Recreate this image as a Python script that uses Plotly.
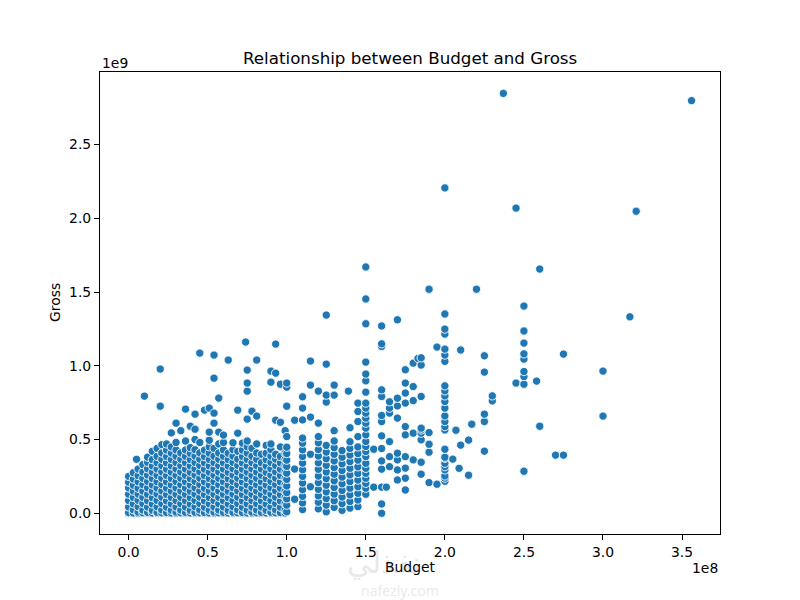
import plotly.graph_objects as go

# budgets and gross in millions of dollars

# dense body of the cloud: one budget per column, list of gross values for it
blob_budget = [0, 3, 5, 6, 9, 10, 12, 15, 18, 20, 21, 24, 27, 30, 33, 36, 39, 42, 45, 48,
               51, 54, 57, 60, 63, 66, 69, 72, 74, 75, 78, 81, 84, 87, 90, 93, 96, 99,
               100, 105, 110, 115, 120, 125, 130, 135, 139, 140, 145]
blob_gross = [
    [0, 5, 43, 86, 129, 172, 210, 250],
    [2, 24, 64, 107, 150, 190, 232, 275],
    [366],
    [0, 8, 45, 88, 130, 170, 214, 256, 300],
    [3, 22, 66, 108, 151, 194, 237, 280, 330],
    [794],
    [0, 6, 42, 85, 128, 173, 216, 259, 302, 345, 380],
    [2, 20, 63, 106, 149, 192, 236, 279, 321, 364, 420],
    [0, 7, 44, 87, 131, 171, 214, 257, 300, 343, 386, 440],
    [726, 978],
    [3, 23, 65, 109, 152, 195, 238, 281, 323, 366, 409, 465],
    [0, 5, 41, 84, 127, 170, 213, 256, 299, 342, 385, 428, 470],
    [2, 21, 64, 107, 150, 193, 236, 279, 322, 365, 408, 450, 545],
    [0, 8, 43, 86, 129, 172, 215, 258, 301, 344, 387, 430, 480, 611],
    [3, 22, 65, 108, 151, 194, 237, 280, 323, 366, 409, 560],
    [0, 6, 42, 85, 128, 171, 214, 257, 300, 343, 386, 429, 490, 706],
    [2, 20, 63, 106, 149, 192, 235, 278, 321, 364, 407, 445, 590],
    [0, 7, 44, 87, 130, 173, 216, 259, 302, 345, 388, 431, 500, 570, 672],
    [3, 23, 66, 109, 152, 195, 238, 281, 324, 367, 410, 480, 1086],
    [0, 5, 41, 84, 127, 170, 213, 256, 299, 342, 385, 428, 699],
    [2, 21, 64, 107, 150, 193, 236, 279, 322, 365, 408, 451, 495, 550, 713],
    [0, 8, 43, 86, 129, 172, 215, 258, 301, 344, 387, 440, 611, 679, 916, 1073],
    [3, 22, 65, 108, 151, 194, 237, 280, 323, 366, 409, 470, 550, 781],
    [0, 6, 42, 85, 128, 171, 214, 257, 300, 343, 386, 430, 480, 530],
    [2, 20, 63, 106, 149, 192, 235, 278, 321, 364, 407, 1039],
    [0, 7, 44, 87, 130, 173, 216, 259, 302, 345, 388, 431, 478],
    [3, 23, 66, 109, 152, 195, 238, 281, 324, 367, 420, 543, 699],
    [0, 5, 41, 84, 127, 170, 213, 256, 299, 342, 385, 428, 475],
    [1161],
    [2, 21, 64, 107, 150, 193, 236, 279, 322, 365, 408, 451, 490, 638, 828, 883, 971],
    [0, 8, 43, 86, 129, 172, 215, 258, 301, 344, 387, 440, 692],
    [3, 22, 65, 108, 151, 194, 237, 280, 323, 366, 409, 470, 659, 1039],
    [0, 6, 42, 85, 128, 171, 214, 257, 300, 343, 400],
    [2, 20, 63, 106, 149, 192, 235, 278, 321, 364, 407, 460],
    [0, 7, 44, 87, 130, 173, 216, 259, 302, 345, 388, 431, 470, 889, 964],
    [3, 23, 66, 109, 152, 195, 238, 281, 324, 367, 400, 631, 950, 1147],
    [0, 5, 41, 84, 127, 170, 213, 256, 299, 342, 385, 450, 617, 875],
    [2, 21, 64, 107, 150, 193, 236, 279, 322, 365, 408, 560],
    [10, 55, 98, 140, 185, 230, 272, 318, 360, 405, 448, 520, 726, 855, 883],
    [95, 300, 631],
    [25, 70, 115, 160, 205, 250, 295, 340, 385, 430, 475, 510, 633, 713, 790],
    [180, 400, 652, 869, 1032],
    [30, 75, 118, 162, 208, 252, 298, 342, 388, 432, 478, 520, 611, 828],
    [10, 55, 100, 145, 190, 235, 280, 325, 370, 415, 460, 754, 801, 1011, 1344],
    [40, 85, 130, 175, 220, 265, 310, 355, 400, 445, 490, 560, 801, 869],
    [20, 65, 110, 155, 200, 245, 290, 335, 380, 425],
    [828],
    [35, 80, 125, 170, 215, 260, 305, 350, 395, 440, 485, 580],
    [45, 90, 135, 180, 225, 270, 315, 360, 405, 450, 520, 622, 690, 747],
]

# sparser big-budget films
big_budget = [150] * 25 + [155, 155, 160, 160, 160, 160, 160, 160, 160, 160, 160, 160, 160, 160, 160, 160, 163,
              165, 165, 165, 165, 165, 165,
              170, 170, 170, 170, 170, 170, 170, 170,
              175, 175, 175, 175, 175, 175, 175, 175, 175, 175,
              180, 180, 180, 180, 180, 183,
              185, 185, 185, 185, 185, 185, 185, 185, 185,
              190, 190, 190, 190, 190, 190, 195, 195] + [200] * 25 + [
              205, 207, 209, 210, 210, 215, 215, 217, 220, 225, 225, 225, 225, 225, 230, 230,
              237, 245, 245] + [250] * 9 + [258, 260, 260, 270, 275, 275, 300, 300, 317, 321, 356]
big_gross = [129, 170, 203, 237, 271, 305, 339, 385, 419, 453, 487, 532, 577, 611, 645, 679, 713,
             747, 821, 898, 944, 1025, 1285, 1453, 1670,
             434, 177, 0, 63, 177, 299, 355, 439, 525, 622, 663, 792, 837, 1131, 1149, 1270, 177,
             316, 384, 486, 679, 713, 756,
             226, 294, 362, 407, 645, 728, 780, 1312,
             158, 238, 306, 384, 532, 588, 747, 815, 883, 973,
             362, 543, 764, 859, 1018, 1050,
             265, 346, 498, 543, 565, 577, 792, 1005, 1054,
             208, 414, 468, 547, 1515, 1519, 197, 1127,
             217, 238, 253, 294, 316, 339, 373, 380, 434, 565, 588, 622, 660, 713, 758, 796,
             830, 864, 1030, 1073, 1113, 1215, 1249, 1351, 2206,
             367, 563, 305, 462, 1107, 258, 496, 604, 1519, 421, 622, 672, 957, 1068, 762, 796,
             2847, 883, 2069,
             285, 875, 927, 961, 1045, 1081, 1154, 1236, 1405,
             896, 590, 1656, 394, 394, 1079, 659, 964, 1332, 2048, 2798]

x_ticks = [0, 0.5, 1.0, 1.5, 2.0, 2.5, 3.0, 3.5]
y_ticks = [0, 0.5, 1.0, 1.5, 2.0, 2.5]

budget = []
gross = []
for b, col in zip(blob_budget, blob_gross):
    for g in col:
        budget.append(b)
        gross.append(g)
budget += big_budget[:len(big_gross)]
gross += big_gross[:len(big_budget)]

# axis units: 1e8 for budget, 1e9 for gross
xs = [b / 100 for b in budget]
ys = [g / 1000 for g in gross]

font = dict(family="DejaVu Sans", size=13.9, color="black")
mark = dict(family="Noto Sans", color="rgba(215,215,215,0.55)")

fig = go.Figure(go.Scatter(
    x=xs, y=ys, mode="markers",
    marker=dict(color="#1f77b4", size=8.3, line=dict(color="white", width=0.9)),
))

axis_common = dict(
    showgrid=False, zeroline=False, showline=True, linecolor="black", linewidth=1.1,
    mirror=True, ticks="outside", ticklen=5, tickwidth=1.1, tickcolor="black",
    tickfont=font, tickformat=".1f",
)
fig.update_xaxes(range=[-0.181, 3.740], tickvals=x_ticks, **axis_common)
fig.update_yaxes(range=[-0.1405, 2.992], tickvals=y_ticks, **axis_common)

# the page body adds 8px around the figure, so the figure is 792x592
fig.update_layout(
    width=792, height=592,
    margin=dict(l=92, r=80, t=64, b=66),
    paper_bgcolor="white", plot_bgcolor="white",
    showlegend=False, font=font,
    annotations=[
        dict(text="نفذلي", x=0.5, y=0, xref="paper", yref="paper", yshift=-27, xshift=-27,
             xanchor="center", yanchor="middle", showarrow=False, font=dict(size=30, **mark)),
        dict(text="nafezly.com", x=0.5, y=0, xref="paper", yref="paper", yshift=-56, xshift=-10,
             xanchor="center", yanchor="middle", showarrow=False, font=dict(size=14, **mark)),
        dict(text="Relationship between Budget and Gross", x=0.5, y=1, xref="paper", yref="paper",
             yshift=14, xanchor="center", yanchor="middle", showarrow=False,
             font=dict(family="DejaVu Sans", size=16.7, color="black")),
        dict(text="Budget", x=0.5, y=0, xref="paper", yref="paper", yshift=-33,
             xanchor="center", yanchor="middle", showarrow=False, font=font),
        dict(text="Gross", x=0, y=0.5, xref="paper", yref="paper", xshift=-45, textangle=-90,
             xanchor="center", yanchor="middle", showarrow=False, font=font),
        dict(text="1e9", x=0, y=1, xref="paper", yref="paper", yshift=9,
             xanchor="left", yanchor="middle", showarrow=False, font=font),
        dict(text="1e8", x=1, y=0, xref="paper", yref="paper", yshift=-34,
             xanchor="right", yanchor="middle", showarrow=False, font=font),
    ],
)

fig.write_html("out.html")
